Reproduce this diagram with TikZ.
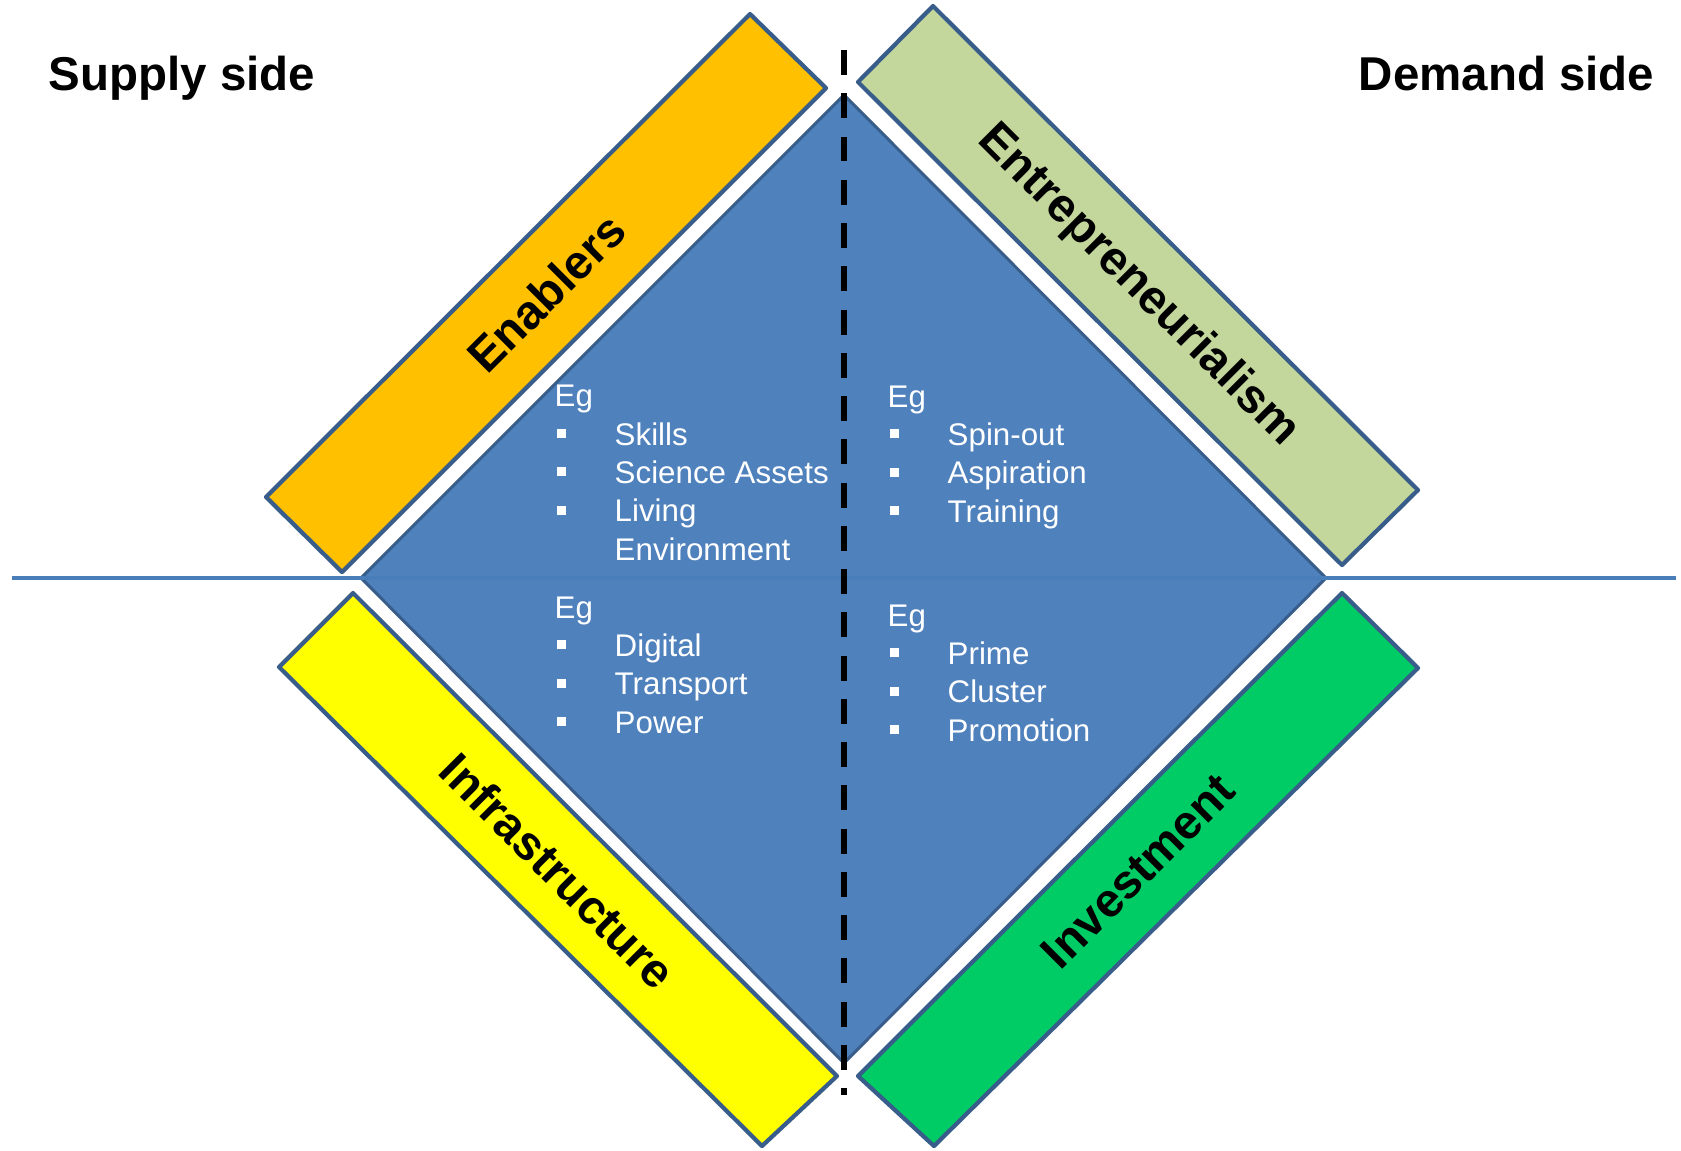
\documentclass[tikz,border=0pt]{standalone}
\usepackage{fontspec}
\setmainfont{Liberation Sans}
\usetikzlibrary{calc}
\definecolor{panelborder}{HTML}{385D8A}
\definecolor{diamondblue}{HTML}{4F81BD}
\definecolor{axisblue}{HTML}{4A7EBB}
\definecolor{enablersfill}{HTML}{FFC000}
\definecolor{entrepfill}{HTML}{C3D69B}
\definecolor{infrafill}{HTML}{FFFF00}
\definecolor{investfill}{HTML}{00CC66}
\tikzset{
	panel/.style={draw=panelborder, line width=1.2pt, line join=round},
	bandlabel/.style={font=\fontsize{13.5}{16}\selectfont\bfseries, inner sep=0pt},
	sidelabel/.style={font=\fontsize{13.5}{16}\selectfont\bfseries, inner sep=0pt},
	% anchored at the baseline of the last line
	eglist/.style={font=\fontsize{8.9}{10.9}\selectfont, text=white, align=left, inner sep=0pt, anchor=base west}
}
\newcommand{\sqbullet}{\makebox[0.6cm][l]{\hspace*{0.02cm}\rule[0.07cm]{0.09cm}{0.09cm}}}

\begin{document}
\begin{tikzpicture}[x=0.01cm, y=-0.01cm]
		%%%%% START %%%%%
		\useasboundingbox (0, 0) rectangle (1681, 1150);
		
		% four bands round the diamond
		\draw[panel, fill=enablersfill] (750, 14) -- (826, 88) -- (342, 572) -- (266, 497) -- cycle;
		\draw[panel, fill=entrepfill] (933, 6) -- (1418, 490) -- (1342, 565) -- (858, 82) -- cycle;
		\draw[panel, fill=infrafill] (353, 593) -- (837, 1076) -- (762, 1146) -- (279, 667) -- cycle;
		\draw[panel, fill=investfill] (1342, 593) -- (1418, 668) -- (934, 1146) -- (858, 1076) -- cycle;
		
		% centre diamond
		\draw[draw=panelborder, line width=0.85pt, fill=diamondblue, line join=round] (844, 95) -- (1326, 578) -- (844, 1063) -- (361, 578) -- cycle;
		
		% axes
		\draw[line width=1.4pt, color=axisblue] (12, 578) -- (1676, 578);
		\draw[line width=1.7pt, color=black, dash pattern=on 7.1pt off 5.2pt] (844, 50) -- (844, 1095);
		
		\node[sidelabel, anchor=base west] (supply) at (48, 90) {Supply side};
		\node[sidelabel, anchor=base east] (demand) at (1655, 90) {Demand side};
		
		\node[bandlabel, rotate=45] (enablers) at (546, 293) {Enablers};
		\node[bandlabel, rotate=-45] (entrep) at (1138, 286) {Entrepreneurialism};
		\node[bandlabel, rotate=-45] (infra) at (558, 871) {Infrastructure};
		\node[bandlabel, rotate=45] (invest) at (1138, 871) {Investment};
		
		\node[eglist] (enablerslist) at (554, 560) {Eg\\ \sqbullet Skills\\ \sqbullet Science Assets\\ \sqbullet Living\\ \hspace*{0.6cm}Environment};
		\node[eglist] (entreplist) at (887, 522) {Eg\\ \sqbullet Spin-out\\ \sqbullet Aspiration\\ \sqbullet Training};
		\node[eglist] (infralist) at (554, 733) {Eg\\ \sqbullet Digital\\ \sqbullet Transport\\ \sqbullet Power};
		\node[eglist] (investlist) at (887, 741) {Eg\\ \sqbullet Prime\\ \sqbullet Cluster\\ \sqbullet Promotion};
		%%%%% END %%%%%
\end{tikzpicture}
\end{document}
